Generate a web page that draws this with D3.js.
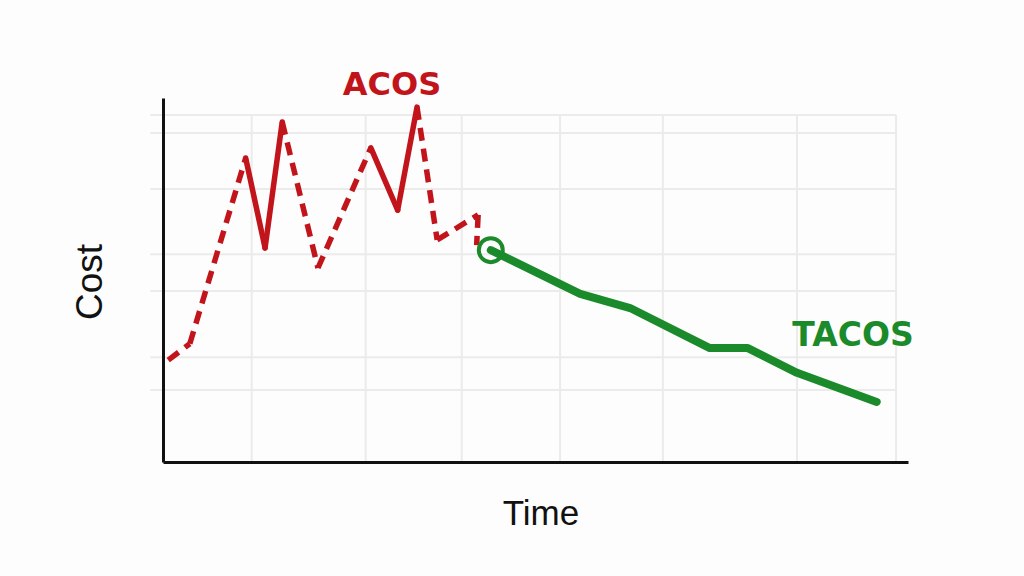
<!DOCTYPE html>
<html>
<head>
<meta charset="utf-8">
<script src="https://cdn.jsdelivr.net/npm/d3@7"></script>
<style>
  body { margin: 0; background: #fdfdfd; }
  svg { display: block; }
  text { font-family: "Liberation Sans", Arial, sans-serif; }
  .tag { font-family: "DejaVu Sans", sans-serif; font-weight: bold; }
</style>
</head>
<body>
<div id="chart"></div>
<script>
// ACOS series (time, cost) - jagged, partly dashed
var acosTime = [0.7, 3.6, 11.1, 13.7, 16.0, 20.8, 27.9, 31.5, 34.1, 36.8, 42.3, 42.1];
var acosCost = [28.0, 32.5, 83.5, 58.8, 93.4, 53.3, 86.3, 69.2, 97.5, 61.0, 67.9, 59.6];
// style of each segment between consecutive ACOS points
var acosSegStyle = ["dash", "dash", "solid", "solid", "dash", "dash", "solid", "solid", "dash", "dash", "dash"];

// TACOS series
var tacosTime = [44.0, 56.0, 62.7, 73.4, 78.5, 85.1, 95.8];
var tacosCost = [58.2, 46.2, 42.3, 31.3, 31.3, 24.5, 16.5];

// background grid positions
var gridX = [11.9, 27.2, 40.1, 53.3, 67.1, 85.1, 98.4];
var gridY = [95.3, 90.4, 75.0, 57.1, 47.0, 28.8, 19.8];

var svgWidth = 1024;
var svgHeight = 576;

var margin = { top: 98, right: 116, bottom: 114, left: 163 };
var width = svgWidth - margin.left - margin.right;
var height = svgHeight - margin.top - margin.bottom;

var svg = d3.select("#chart")
    .append("svg")
    .attr("width", svgWidth)
    .attr("height", svgHeight);

var g = svg.append("g")
    .attr("transform", `translate(${margin.left}, ${margin.top})`);

var x = d3.scaleLinear().domain([0, 100]).range([0, width]);
var y = d3.scaleLinear().domain([0, 100]).range([height, 0]);

// grid
g.selectAll(".gx")
    .data(gridX)
    .enter()
    .append("line")
    .attr("x1", d => x(d))
    .attr("x2", d => x(d))
    .attr("y1", y(gridY[0]))
    .attr("y2", height)
    .attr("stroke", "#ebebeb")
    .attr("stroke-width", 2);

g.selectAll(".gy")
    .data(gridY)
    .enter()
    .append("line")
    .attr("x1", x(-1.7))
    .attr("x2", x(gridX[gridX.length - 1]))
    .attr("y1", d => y(d))
    .attr("y2", d => y(d))
    .attr("stroke", "#ebebeb")
    .attr("stroke-width", 2);

// axes (no ticks)
var xAxis = g.append("g")
    .attr("transform", `translate(0, ${height})`)
    .call(d3.axisBottom(x).ticks(0).tickSizeOuter(0));
var yAxis = g.append("g")
    .call(d3.axisLeft(y).ticks(0).tickSizeOuter(0));
[xAxis, yAxis].forEach(function (a) {
    a.select(".domain").attr("stroke", "#111").attr("stroke-width", 3);
});

// ACOS line, one segment at a time
var acosPts = acosTime.map((t, i) => [t, acosCost[i]]);
var line = d3.line().x(d => x(d[0])).y(d => y(d[1]));
var segs = acosSegStyle.map((s, i) => ({ style: s, pts: [acosPts[i], acosPts[i + 1]] }));

g.selectAll(".acos")
    .data(segs)
    .enter()
    .append("path")
    .attr("d", d => line(d.pts))
    .attr("fill", "none")
    .attr("stroke", "#c2151b")
    .attr("stroke-width", 5.5)
    .attr("stroke-linecap", d => d.style == "dash" ? "butt" : "round")
    .attr("stroke-linejoin", "round")
    .attr("stroke-dasharray", d => d.style == "dash" ? "13 8" : null);

// TACOS line
var tacosPts = tacosTime.map((t, i) => [t, tacosCost[i]]);
g.append("path")
    .attr("d", line(tacosPts))
    .attr("fill", "none")
    .attr("stroke", "#1b8a2b")
    .attr("stroke-width", 8)
    .attr("stroke-linecap", "round")
    .attr("stroke-linejoin", "round");

g.append("circle")
    .attr("cx", x(tacosTime[0]))
    .attr("cy", y(tacosCost[0]))
    .attr("r", 12)
    .attr("fill", "none")
    .attr("stroke", "#1b8a2b")
    .attr("stroke-width", 4);

// labels
svg.append("text")
    .attr("class", "tag")
    .attr("x", 392)
    .attr("y", 95)
    .attr("text-anchor", "middle")
    .attr("font-size", "32px")
    .attr("fill", "#c2151b")
    .text("ACOS");

svg.append("text")
    .attr("class", "tag")
    .attr("x", 853)
    .attr("y", 346)
    .attr("text-anchor", "middle")
    .attr("font-size", "33px")
    .attr("fill", "#1b8a2b")
    .text("TACOS");

svg.append("text")
    .attr("transform", "translate(102, 282) rotate(-90)")
    .attr("text-anchor", "middle")
    .attr("font-size", "37px")
    .attr("fill", "#111")
    .text("Cost");

svg.append("text")
    .attr("x", 541)
    .attr("y", 525)
    .attr("text-anchor", "middle")
    .attr("font-size", "35px")
    .attr("fill", "#111")
    .text("Time");
</script>
</body>
</html>
